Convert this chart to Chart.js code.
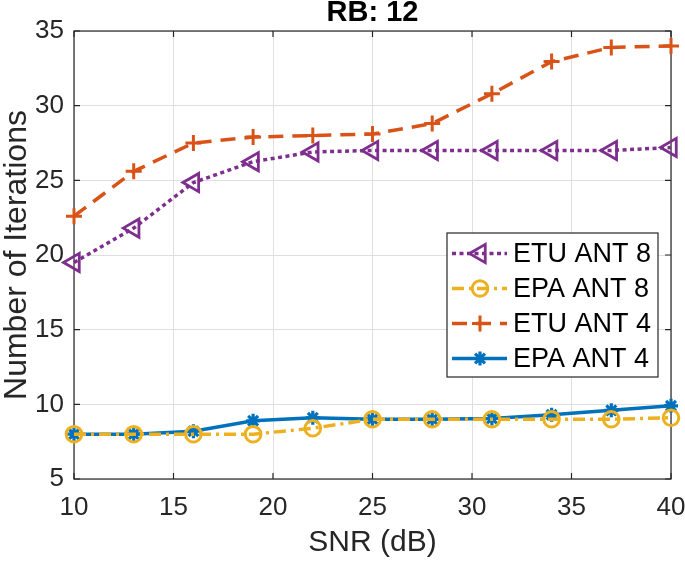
<!DOCTYPE html>
<html>
<head>
<meta charset="utf-8">
<script src="https://cdn.jsdelivr.net/npm/chart.js@4/dist/chart.umd.min.js"></script>
<style>
  html, body { margin: 0; padding: 0; background: #ffffff; }
  #wrap { width: 685px; height: 562px; }
</style>
</head>
<body>
<div id="wrap"><canvas id="c" width="685" height="562"></canvas></div>
<script>
const chartTitle = 'RB: 12';
const xTitle = 'SNR (dB)';
const yTitle = 'Number of Iterations';
const snr = [10, 13, 16, 19, 22, 25, 28, 31, 34, 37, 40];
const seriesNames = ['ETU ANT 8', 'EPA ANT 8', 'ETU ANT 4', 'EPA ANT 4'];
const etuAnt8 = [19.5, 21.8, 24.85, 26.25, 26.9, 27.0, 27.0, 27.0, 27.0, 27.0, 27.2];
const epaAnt8 = [8.0, 8.0, 8.0, 8.0, 8.4, 9.0, 9.0, 9.0, 9.0, 9.0, 9.1];
const etuAnt4 = [22.6, 25.6, 27.5, 27.9, 28.0, 28.1, 28.8, 30.8, 32.95, 33.9, 34.0];
const epaAnt4 = [8.0, 8.0, 8.2, 8.9, 9.1, 9.0, 9.0, 9.05, 9.3, 9.6, 9.9];
const xTicks = [10, 15, 20, 25, 30, 35, 40];
const yTicks = [5, 10, 15, 20, 25, 30, 35];

const FONT = '"Liberation Sans", Arial, Helvetica, sans-serif';
const AX = '#262626';

function pts(vals) { return snr.map((x, i) => ({ x: x, y: vals[i] })); }

const datasets = [
  { label: seriesNames[0], data: pts(etuAnt8), borderColor: '#7E2F8E', borderWidth: 3.5,
    borderDash: [4, 3.5], pointStyle: 'triangle', pointRotation: -90, pointRadius: 10.5,
    pointBorderWidth: 2.8, pointBackgroundColor: 'rgba(0,0,0,0)', pointBorderColor: '#7E2F8E' },
  { label: seriesNames[1], data: pts(epaAnt8), borderColor: '#EDB120', borderWidth: 3.5,
    borderDash: [12, 5, 3, 5], pointStyle: 'circle', pointRadius: 7.8,
    pointBorderWidth: 3, pointBackgroundColor: 'rgba(0,0,0,0)', pointBorderColor: '#EDB120' },
  { label: seriesNames[2], data: pts(etuAnt4), borderColor: '#D95319', borderWidth: 3.5,
    borderDash: [15, 9], pointStyle: 'cross', pointRadius: 8,
    pointBorderWidth: 3, pointBackgroundColor: 'rgba(0,0,0,0)', pointBorderColor: '#D95319' },
  { label: seriesNames[3], data: pts(epaAnt4), borderColor: '#0072BD', borderWidth: 3.5,
    borderDash: [], pointStyle: 'star', pointRadius: 7,
    pointBorderWidth: 3.2, pointBackgroundColor: 'rgba(0,0,0,0)', pointBorderColor: '#0072BD' }
];

function ownDrawPoint(ctx, style, r, rotDeg, x, y) {
  ctx.save();
  ctx.translate(x, y);
  ctx.rotate(rotDeg * Math.PI / 180);
  ctx.beginPath();
  if (style === 'triangle') {
    for (let k = 0; k < 3; k++) {
      const a = k * 2 * Math.PI / 3;
      const px = Math.sin(a) * r, py = -Math.cos(a) * r;
      if (k === 0) ctx.moveTo(px, py); else ctx.lineTo(px, py);
    }
    ctx.closePath();
  } else if (style === 'circle') {
    ctx.arc(0, 0, r, 0, Math.PI * 2);
  } else if (style === 'cross') {
    ctx.moveTo(0, -r); ctx.lineTo(0, r); ctx.moveTo(-r, 0); ctx.lineTo(r, 0);
  } else if (style === 'star') {
    ctx.moveTo(0, -r); ctx.lineTo(0, r); ctx.moveTo(-r, 0); ctx.lineTo(r, 0);
    const d = r * Math.SQRT1_2;
    ctx.moveTo(-d, -d); ctx.lineTo(d, d); ctx.moveTo(-d, d); ctx.lineTo(d, -d);
  }
  ctx.stroke();
  ctx.restore();
}

const frame = {
  id: 'frame',
  beforeDatasetsDraw(chart) {
    const { ctx, chartArea: a, scales: { x, y } } = chart;
    ctx.save();
    ctx.strokeStyle = AX;
    ctx.lineWidth = 1.2;
    ctx.setLineDash([]);
    ctx.strokeRect(a.left, a.top, a.right - a.left, a.bottom - a.top);
    const tl = 6;
    ctx.beginPath();
    xTicks.forEach(v => {
      const px = x.getPixelForValue(v);
      ctx.moveTo(px, a.bottom); ctx.lineTo(px, a.bottom - tl);
      ctx.moveTo(px, a.top); ctx.lineTo(px, a.top + tl);
    });
    yTicks.forEach(v => {
      const py = y.getPixelForValue(v);
      ctx.moveTo(a.left, py); ctx.lineTo(a.left + tl, py);
      ctx.moveTo(a.right, py); ctx.lineTo(a.right - tl, py);
    });
    ctx.stroke();
    ctx.restore();
  },
  afterDraw(chart) {
    const ctx = chart.ctx;
    const bx = 447, by = 233, bw = 211, bh = 144;
    ctx.save();
    ctx.fillStyle = '#ffffff';
    ctx.fillRect(bx, by, bw, bh);
    ctx.strokeStyle = AX;
    ctx.lineWidth = 1.2;
    ctx.strokeRect(bx, by, bw, bh);
    chart.data.datasets.forEach((ds, i) => {
      const cy = 253.5 + i * 35;
      ctx.save();
      ctx.strokeStyle = ds.borderColor;
      ctx.lineWidth = ds.borderWidth;
      ctx.setLineDash(ds.borderDash || []);
      ctx.beginPath();
      ctx.moveTo(452, cy); ctx.lineTo(507, cy);
      ctx.stroke();
      ctx.setLineDash([]);
      ctx.lineWidth = ds.pointBorderWidth;
      ctx.strokeStyle = ds.pointBorderColor;
      ownDrawPoint(ctx, ds.pointStyle, ds.pointRadius, ds.pointRotation || 0, 480, cy);
      ctx.restore();
      ctx.fillStyle = '#000000';
      ctx.font = '27px ' + FONT;
      ctx.textBaseline = 'middle';
      ctx.textAlign = 'left';
      ctx.fillText(ds.label, 513, cy + 1);
    });
    ctx.restore();
  }
};

new Chart(document.getElementById('c'), {
  type: 'line',
  data: { datasets: datasets },
  options: {
    responsive: false,
    animation: false,
    clip: false,
    layout: { padding: { top: 0, right: 0, bottom: 0, left: 0 } },
    elements: { line: { tension: 0, fill: false } },
    plugins: {
      legend: { display: false },
      tooltip: { enabled: false },
      title: {
        display: true, text: chartTitle, fullSize: false, color: '#000000',
        font: { family: FONT, size: 29, weight: 'bold', lineHeight: 0.9 },
        padding: { top: 0, bottom: 4.9 }
      }
    },
    scales: {
      x: {
        type: 'linear', min: 10, max: 40,
        afterFit(s) { s.height = 83; s.paddingRight = 14; },
        afterBuildTicks(s) { s.ticks = xTicks.map(v => ({ value: v })); },
        ticks: { autoSkip: false, maxRotation: 0, color: AX, padding: 13,
                 font: { family: FONT, size: 26 } },
        grid: { color: '#dfdfdf', lineWidth: 1, drawTicks: false },
        border: { display: false },
        title: { display: true, text: xTitle, color: AX,
                 font: { family: FONT, size: 30, lineHeight: 1.2 }, padding: { top: 0, bottom: 1 } }
      },
      y: {
        type: 'linear', min: 5, max: 35,
        afterFit(s) { s.width = 74; },
        afterBuildTicks(s) { s.ticks = yTicks.map(v => ({ value: v })); },
        ticks: { autoSkip: false, color: AX, padding: 10,
                 font: { family: FONT, size: 26 } },
        grid: { color: '#dfdfdf', lineWidth: 1, drawTicks: false },
        border: { display: false },
        title: { display: true, text: yTitle, color: AX,
                 font: { family: FONT, size: 32, lineHeight: 1.1 }, padding: { top: 0, bottom: 0 } }
      }
    }
  },
  plugins: [frame]
});
</script>
</body>
</html>
